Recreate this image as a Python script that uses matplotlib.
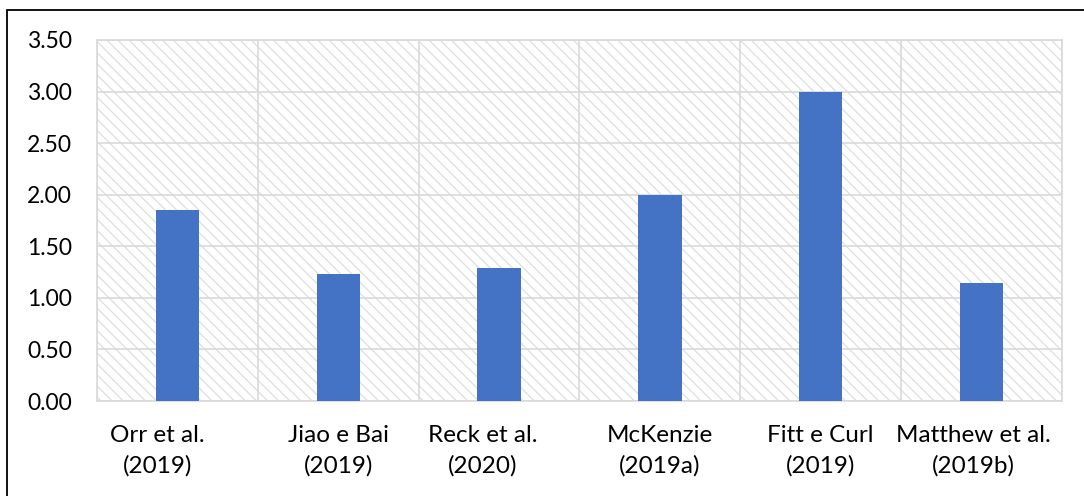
import matplotlib
matplotlib.use('Agg')
import matplotlib.pyplot as plt
from matplotlib.patches import Rectangle
import matplotlib.transforms as mtransforms

plt.rcParams['font.family'] = ['Lato', 'DejaVu Sans']
plt.rcParams['hatch.linewidth'] = 0.9
plt.rcParams['hatch.color'] = '#dedede'

# Dados
estudos = ['Orr et al.\n(2019)', 'Jiao e Bai\n(2019)', 'Reck et al.\n(2020)',
           'McKenzie\n(2019a)', 'Fitt e Curl\n(2019)', 'Matthew et al.\n(2019b)']
valores = [1.85, 1.23, 1.29, 2.00, 3.00, 1.14]
yticks = [0.0, 0.5, 1.0, 1.5, 2.0, 2.5, 3.0, 3.5]

# deslocamento horizontal dos rótulos (unidades de categoria)
desloc = [-0.125, 0.0, -0.10, 0.0, 0.0, -0.05]

fig = plt.figure(figsize=(10.84, 4.96), dpi=100)
ax = fig.add_axes([97 / 1084, 1 - 401 / 496, (1062 - 97) / 1084, (401 - 40) / 496])

# fundo listrado da área do gráfico
ax.add_patch(Rectangle((0, 0), 1, 1, transform=ax.transAxes, facecolor='white',
                       edgecolor='#dedede', hatch='\\\\\\', linewidth=0, zorder=0))

x = list(range(len(valores)))
ax.bar(x, valores, width=0.27, color='#4472C4', zorder=3)

ax.set_xlim(-0.5, len(valores) - 0.5)
ax.set_ylim(0, 3.5)
ax.set_yticks(yticks)
ax.set_yticklabels([f'{v:.2f}' for v in yticks], fontsize=16.5)
ax.tick_params(axis='y', length=0, pad=18)

ax.set_xticks([])
ax.set_xticks([i - 0.5 for i in range(len(valores) + 1)], minor=True)
ax.tick_params(axis='x', which='both', length=0, labelbottom=False)

ax.grid(axis='y', color='#d9d9d9', linewidth=1.2, zorder=1)
ax.grid(axis='x', which='minor', color='#d9d9d9', linewidth=1.2, zorder=1)
ax.set_axisbelow(True)
for s in ax.spines.values():
    s.set_color('#d9d9d9')
    s.set_linewidth(1.2)

trans = mtransforms.blended_transform_factory(ax.transData, ax.transAxes)
for i, (rot, d) in enumerate(zip(estudos, desloc)):
    ax.text(i + d, -0.066, rot, transform=trans, ha='center', va='top',
            fontsize=17.5, linespacing=1.5)

# moldura do gráfico
fig.patches.append(Rectangle((7 / 1084, -0.05), 1.1, 1 - 10.5 / 496 + 0.05,
                             transform=fig.transFigure, fill=False,
                             edgecolor='black', linewidth=1.3))

fig.savefig('out.png', dpi=100)
